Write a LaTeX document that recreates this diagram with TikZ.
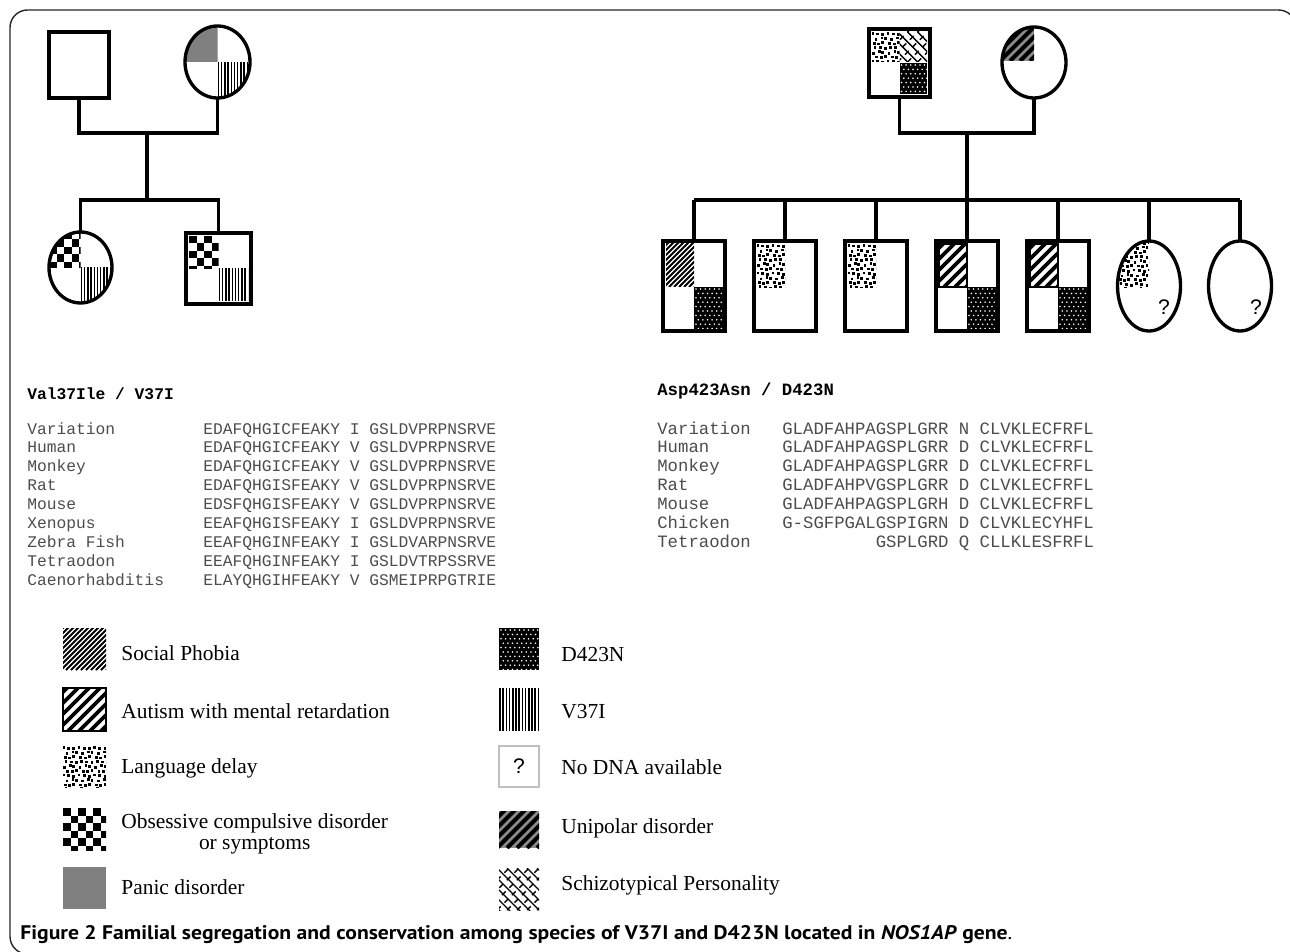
\documentclass[tikz,border=0pt]{standalone}
\usepackage{fontspec}
\setmainfont{Liberation Serif}
\setmonofont{Liberation Mono}
\newfontfamily\capfont{PT Sans}[FakeStretch=1.1]
\newfontfamily\qfont{Liberation Sans}
\usetikzlibrary{shapes.geometric}

% fill a box (x1,y1)-(x2,y2) with one of the legend patterns
\newcommand{\hatch}[5]{%
  \begin{scope}
    \clip (#2,#3) rectangle (#4,#5);
    \csname pat#1\endcsname{#2}{#3}{#4}{#5}
  \end{scope}}

\newcommand{\patsocial}[4]{\foreach \k in {0,...,28} \draw[line width=1.1pt] (#1-72+\k*5,#4) -- ++(72,-72);}
\newcommand{\patautism}[4]{\foreach \k in {0,...,13} \draw[line width=2.2pt] (#1-72+\k*11,#4) -- ++(72,-72);}
\newcommand{\patlang}[4]{\foreach \i in {0,...,9}{\foreach \j in {0,...,10}{
  \fill ({#1+\i*5.2+2.6*mod(\j,2)+0.9*mod(\i*\j+\j,3)-1},{#2+\j*4.6+0.7*mod(\i+2*\j,3)}) rectangle ++(2.8,2.8);}}}
\newcommand{\patocd}[4]{\foreach \i in {0,...,6}{\foreach \j in {0,...,6}{
  \pgfmathtruncatemacro\odd{mod(\i+\j,2)}\ifnum\odd=0 \fill (#1+\i*7.5,#2+\j*7.5) rectangle ++(7.5,7.5);\fi}}}
\newcommand{\patpanic}[4]{\fill[black!50] (#1,#2) rectangle (#3,#4);}
\newcommand{\patdna}[4]{\fill (#1,#2) rectangle (#3,#4);
  \foreach \i in {0,...,9}{\foreach \j in {0,...,10}{
  \fill[white] ({#1+2+\i*4.6+2.3*mod(\j,2)},{#2+2+\j*4.4}) circle (0.5pt);}}}
\newcommand{\patvlines}[4]{\foreach \k in {0,...,18} \draw[line width=0.9pt] (#1+1+\k*3.2,#2) -- (#1+1+\k*3.2,#4);}
\newcommand{\patuni}[4]{\fill[black!45] (#1,#2) rectangle (#3,#4);
  \foreach \k in {0,...,14} \draw[line width=2.3pt] (#1-72+\k*10,#4) -- ++(72,-72);}
\newcommand{\patschizo}[4]{%
  \foreach \k in {0,...,14} \draw[line width=0.8pt] (#1-72+\k*10,#2) -- ++(72,72);
  \foreach \k in {0,...,14} \draw[line width=0.8pt, dash pattern=on 3pt off 3pt] (#1-72+\k*10,#4) -- ++(72,-72);}

\begin{document}
\begin{tikzpicture}[x=0.02cm, y=-0.02cm,
  ind/.style={draw, line width=1.9pt, inner sep=0pt, outer sep=0pt},
  male/.style={ind, rectangle},
  female/.style={ind, ellipse},
  wh/.style 2 args={minimum width=#1*0.02cm, minimum height=#2*0.02cm},
  kin/.style={line width=1.9pt},
  seqL/.style={anchor=base west, inner sep=0pt, text=black!70, font=\fontsize{9.26}{11}\selectfont\ttfamily},
  seqR/.style={anchor=base west, inner sep=0pt, text=black!70, font=\fontsize{9.85}{11}\selectfont\ttfamily},
  legtext/.style={anchor=base west, inner sep=0pt, font=\fontsize{12.2}{12}\selectfont},
  qmark/.style={inner sep=0pt, font=\qfont\fontsize{12}{12}\selectfont}]

\useasboundingbox (0,0) rectangle (1290,952);

% outer frame
\draw[line width=0.8pt, black!85, rounded corners=10] (1296,40) -- (1296,10) -- (10,10) -- (10,954) -- (40,954);

% ---------- left family: quadrant fills ----------
\begin{scope}
\clip (217.5,62) ellipse [x radius=0.65cm, y radius=0.72cm];
\hatch{panic}{185}{26}{217.5}{62}
\hatch{vlines}{217.5}{62}{250}{98}
\end{scope}
\begin{scope}
\clip (80.5,267.5) ellipse [x radius=0.63cm, y radius=0.71cm];
\hatch{ocd}{49}{232}{80.5}{267.5}
\hatch{vlines}{80.5}{267.5}{112}{303}
\end{scope}
\hatch{ocd}{189}{236}{218.5}{268.5}
\hatch{vlines}{218.5}{268.5}{248}{301}

% left family: people
\node[male, wh={60}{66}] (lFa) at (79,65) {};
\node[female, wh={65}{72}] (lMo) at (217.5,62) {};
\node[female, wh={63}{71}] (lDa) at (80.5,267.5) {};
\node[male, wh={65}{71}] (lSo) at (218.5,268.5) {};
\coordinate (lMar) at (147,133);
\coordinate (lSib) at (147,200);

\draw[kin] (lFa.south) |- (lMar) -| (lMo.south);
\draw[kin] (lMar) -- (lSib);
\draw[kin] (lDa.north) |- (lSib) -| (lSo.north);

% ---------- right family: quadrant fills ----------
\hatch{lang}{872}{32}{899.5}{62}
\hatch{schizo}{899.5}{32}{927}{62}
\hatch{dna}{899.5}{63}{927}{94}
\begin{scope}
\clip (1034,62.5) ellipse [x radius=0.64cm, y radius=0.71cm];
\hatch{uni}{1002}{28}{1034}{61}
\end{scope}

% children
\hatch{social}{666}{244}{694}{287}
\hatch{dna}{694}{287}{723}{329}
\hatch{lang}{757}{244}{785}{288}
\hatch{lang}{848}{244}{876}{288}
\hatch{autism}{939}{244}{967}{287}
\draw[line width=1pt] (939,244) rectangle (967,287);
\hatch{dna}{967}{287}{996}{329}
\hatch{autism}{1030}{244}{1058}{287}
\draw[line width=1pt] (1030,244) rectangle (1058,287);
\hatch{dna}{1058}{287}{1087}{329}
\begin{scope}
\clip (1149,286) ellipse [x radius=0.63cm, y radius=0.9cm];
\hatch{lang}{1118}{241}{1149}{288}
\end{scope}

% right family: people
\node[male, wh={61}{68}] (rFa) at (899.5,63) {};
\node[female, wh={64}{71}] (rMo) at (1034,62.5) {};
\node[male, wh={62}{90}] (rC1) at (694,286) {};
\node[male, wh={62}{90}] (rC2) at (785,286) {};
\node[male, wh={62}{90}] (rC3) at (876,286) {};
\node[male, wh={62}{90}] (rC4) at (967,286) {};
\node[male, wh={62}{90}] (rC5) at (1058,286) {};
\node[female, wh={63}{90}] (rC6) at (1149,286) {};
\node[female, wh={63}{90}] (rC7) at (1240,286) {};
\node[qmark] (rQ6) at (1164,307) {?};
\node[qmark] (rQ7) at (1256,307) {?};
\coordinate (rMar) at (967,133);
\coordinate (rSib) at (967,200);

\draw[kin] (rFa.south) |- (rMar) -| (rMo.south);
\draw[kin] (rMar) -- (rSib);
\draw[kin] (rC1.north |- rSib) -- (rC7.north |- rSib);
\foreach \c in {rC1,rC2,rC3,rC4,rC5,rC6,rC7}
  \draw[kin] (\c.north) -- (\c.north |- rSib);

% ---------- alignments ----------
\node[seqL, font=\fontsize{9.26}{11}\selectfont\ttfamily\bfseries, text=black] (lTitle) at (27,399) {Val37Ile / V37I};
\node[seqL] (lR1) at (27,434) {Variation};
\node[seqL] (lR2) at (27,452.9) {Human};
\node[seqL] (lR3) at (27,471.8) {Monkey};
\node[seqL] (lR4) at (27,490.7) {Rat};
\node[seqL] (lR5) at (27,509.6) {Mouse};
\node[seqL] (lR6) at (27,528.5) {Xenopus};
\node[seqL] (lR7) at (27,547.4) {Zebra Fish};
\node[seqL] (lR8) at (27,566.3) {Tetraodon};
\node[seqL] (lR9) at (27,585.2) {Caenorhabditis};
\node[seqL] (lS1) at (203,434) {EDAFQHGICFEAKY I GSLDVPRPNSRVE};
\node[seqL] (lS2) at (203,452.9) {EDAFQHGICFEAKY V GSLDVPRPNSRVE};
\node[seqL] (lS3) at (203,471.8) {EDAFQHGICFEAKY V GSLDVPRPNSRVE};
\node[seqL] (lS4) at (203,490.7) {EDAFQHGISFEAKY V GSLDVPRPNSRVE};
\node[seqL] (lS5) at (203,509.6) {EDSFQHGISFEAKY V GSLDVPRPNSRVE};
\node[seqL] (lS6) at (203,528.5) {EEAFQHGISFEAKY I GSLDVPRPNSRVE};
\node[seqL] (lS7) at (203,547.4) {EEAFQHGINFEAKY I GSLDVARPNSRVE};
\node[seqL] (lS8) at (203,566.3) {EEAFQHGINFEAKY I GSLDVTRPSSRVE};
\node[seqL] (lS9) at (203,585.2) {ELAYQHGIHFEAKY V GSMEIPRPGTRIE};

\node[seqR, font=\fontsize{9.85}{11}\selectfont\ttfamily\bfseries, text=black] (rTitle) at (657,396) {Asp423Asn / D423N};
\node[seqR] (rR1) at (657,434) {Variation};
\node[seqR] (rR2) at (657,452.9) {Human};
\node[seqR] (rR3) at (657,471.8) {Monkey};
\node[seqR] (rR4) at (657,490.7) {Rat};
\node[seqR] (rR5) at (657,509.6) {Mouse};
\node[seqR] (rR6) at (657,528.5) {Chicken};
\node[seqR] (rR7) at (657,547.4) {Tetraodon};
\node[seqR] (rS1) at (782,434) {GLADFAHPAGSPLGRR N CLVKLECFRFL};
\node[seqR] (rS2) at (782,452.9) {GLADFAHPAGSPLGRR D CLVKLECFRFL};
\node[seqR] (rS3) at (782,471.8) {GLADFAHPAGSPLGRR D CLVKLECFRFL};
\node[seqR] (rS4) at (782,490.7) {GLADFAHPVGSPLGRR D CLVKLECFRFL};
\node[seqR] (rS5) at (782,509.6) {GLADFAHPAGSPLGRH D CLVKLECFRFL};
\node[seqR] (rS6) at (782,528.5) {G-SGFPGALGSPIGRN D CLVKLECYHFL};
\node[seqR] (rS7) at (782,547.4) {\hphantom{GLADFAHPA}GSPLGRD Q CLLKLESFRFL};

% ---------- legend ----------
\hatch{social}{63}{628}{106}{670}
\hatch{autism}{63}{688}{106}{731}
\draw[line width=1pt] (63,688) rectangle (106,731);
\hatch{lang}{63}{746}{106}{787}
\hatch{ocd}{63}{808}{106}{850}
\hatch{panic}{63}{867}{106}{909}
\hatch{dna}{499}{628}{539}{670}
\hatch{vlines}{499}{688}{539}{731}
\draw[black!25, line width=0.6pt] (499,746) rectangle (539,787);
\node[qmark] (kQ) at (519,766) {?};
\hatch{uni}{499}{811}{539}{848}
\hatch{schizo}{499}{868}{539}{910}

\node[legtext] (kSoc) at (121,660) {Social Phobia};
\node[legtext] (kAut) at (121,718) {Autism with mental retardation};
\node[legtext] (kLan) at (121,773) {Language delay};
\node[legtext, anchor=west, align=center] (kOcd) at (121,834) {Obsessive compulsive disorder\\or symptoms};
\node[legtext] (kPan) at (121,894) {Panic disorder};
\node[legtext] (kDna) at (561,661) {D423N};
\node[legtext] (kV) at (561,718) {V37I};
\node[legtext] (kNo) at (561,774) {No DNA available};
\node[legtext] (kUni) at (561,833) {Unipolar disorder};
\node[legtext] (kSch) at (561,890) {Schizotypical Personality};

% caption
\node[anchor=base west, inner sep=0pt, font=\capfont\fontsize{11.2}{12}\selectfont] (cap) at (20,939)
  {\textbf{Figure 2 Familial segregation and conservation among species of V37I and D423N located in \textit{NOS1AP} gene}.};

\end{tikzpicture}
\end{document}
